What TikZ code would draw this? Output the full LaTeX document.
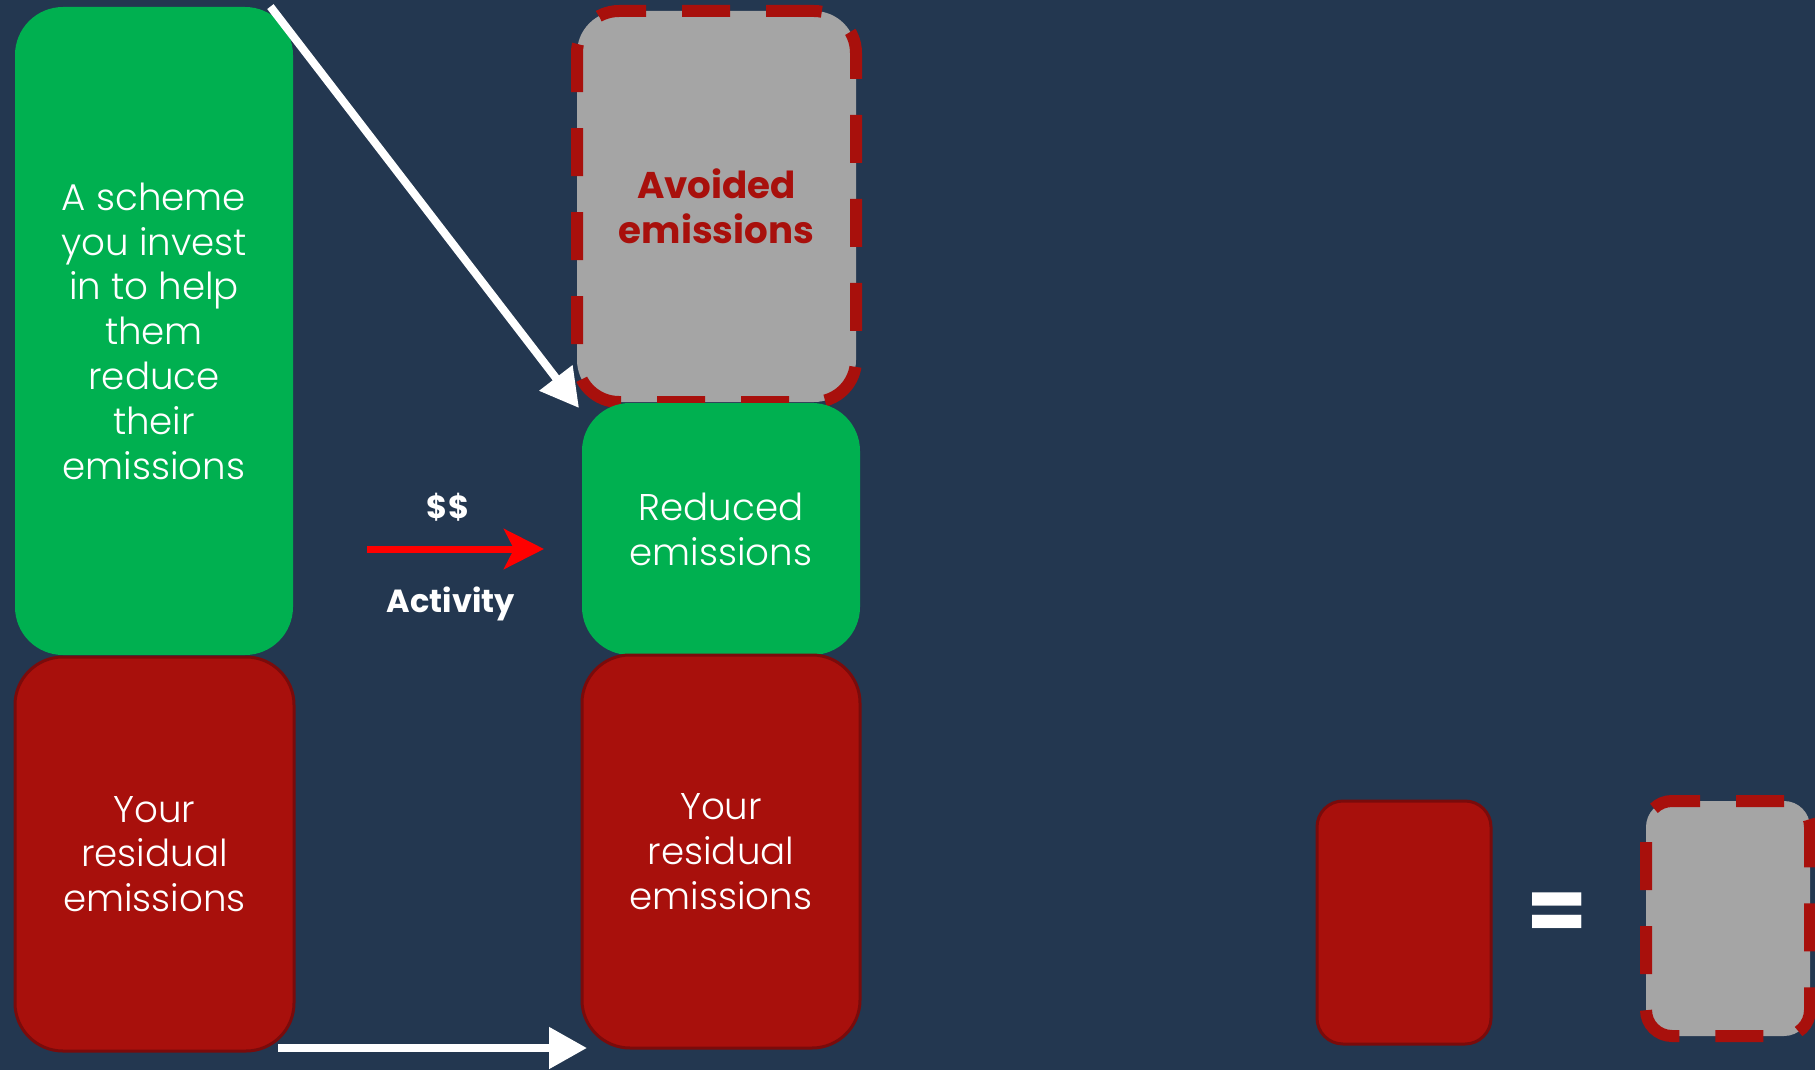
\documentclass[tikz,border=0pt]{standalone}
\usepackage{fontspec}
\setmainfont{Poppins}[UprightFont=* Light, BoldFont=* Bold]
\usetikzlibrary{arrows.meta,calc}
\definecolor{bgc}{HTML}{233750}
\definecolor{grn}{HTML}{00B050}
\definecolor{rdf}{HTML}{A8100C}
\definecolor{rdd}{HTML}{7A0B0B}
\definecolor{gry}{HTML}{A5A5A5}
\definecolor{dsh}{HTML}{A8100C}
\begin{document}
\begin{tikzpicture}[x=0.5pt,y=-0.5pt,
  boxtxt/.style={text=white,align=center,font=\fontsize{18.6}{22.4}\selectfont},
  greenbox/.style={boxtxt,fill=grn,rounded corners=24pt,inner sep=0pt},
  redbox/.style={boxtxt,fill=rdf,draw=rdd,line width=1.5pt,rounded corners=24pt,inner sep=0pt},
  avoidbox/.style={fill=gry,draw=dsh,line width=6pt,dash pattern=on 24pt off 18pt,rounded corners=21pt,inner sep=0pt},
  lbl/.style={text=white,font=\bfseries\fontsize{16}{18}\selectfont,inner sep=0pt},
  warrow/.style={draw=white,line width=4pt,-{Triangle[length=19pt,width=20pt]}},
  rarrow/.style={draw=red,line width=3.5pt,-{Stealth[length=20pt,width=20pt,inset=5pt]}}
]
\fill[bgc] (0,0) rectangle (1815,1070);
\useasboundingbox (0,0) rectangle (1815,1070);

\node[greenbox,minimum width=139pt,minimum height=324pt] (scheme) at (154,331)
  {A scheme\\you invest\\in to help\\them\\reduce\\their\\emissions};
\node[redbox,minimum width=139.5pt,minimum height=197pt] (resid1) at (154.5,854)
  {Your\\residual\\emissions};
\node[avoidbox,minimum width=139.5pt,minimum height=195.5pt,
  text=dsh,align=center,font=\bfseries\fontsize{18.6}{22.4}\selectfont] (avoided) at (716.5,206.5)
  {Avoided\\emissions};
\node[greenbox,minimum width=139pt,minimum height=126pt] (reduced) at (721,529)
  {Reduced\\emissions};
\node[redbox,minimum width=139pt,minimum height=196.5pt] (resid2) at (721,851.5)
  {Your\\residual\\emissions};
\node[redbox,rounded corners=13pt,minimum width=87pt,minimum height=121.5pt] (smallred) at (1404,922.5) {};
\node[avoidbox,rounded corners=13pt,minimum width=82pt,minimum height=117.5pt] (smallgray) at (1728,918.5) {};
\node[text=white,font=\bfseries\fontsize{44}{44}\selectfont,inner sep=0pt] (eq) at (1557,917) {=};

\node[lbl] (money) at (448,507) {\$\$};
\node[lbl] (act) at (451,604) {Activity};

\coordinate (d1) at ($(scheme.north east)+(-23,0)$);
\coordinate (d2) at ($(avoided.south west)+(8,0)$);
\draw[warrow] (d1) -- (d2);

\coordinate (r1) at (367,549);
\coordinate (r2) at (544,549);
\draw[rarrow] (r1) -- (r2);

\coordinate (b1) at (278,1048);
\coordinate (b2) at (587,1048);
\draw[warrow] (b1) -- (b2);
\end{tikzpicture}
\end{document}
